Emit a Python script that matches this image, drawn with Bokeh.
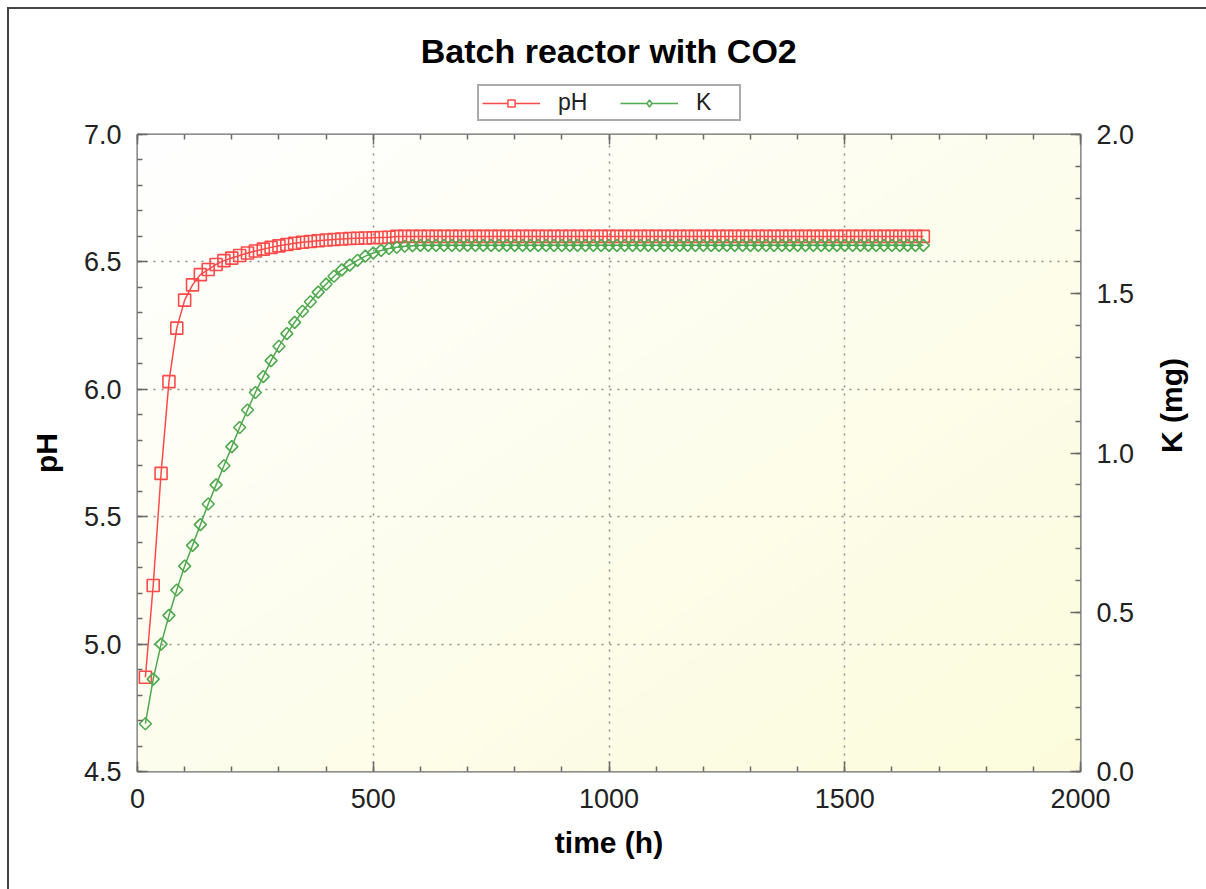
import numpy as np
from bokeh.plotting import figure
from bokeh.layouts import column
from bokeh.models import (Range1d, LinearAxis, Legend, LegendItem, Label,
                          SingleIntervalTicker, PrintfTickFormatter)
from bokeh.embed import file_html
from bokeh.resources import INLINE

# ---------------- data ----------------
time_h = [16.7, 33.3, 50.0, 66.7, 83.3, 100.0, 116.7, 133.3, 150.0, 166.7,
          183.3, 200.0, 216.7, 233.3, 250.0, 266.7, 283.3, 300.0, 316.7, 333.3,
          350.0, 366.7, 383.3, 400.0, 416.7, 433.3, 450.0, 466.7, 483.3, 500.0,
          516.7, 533.3, 550.0, 566.7, 583.3, 600.0, 616.7, 633.3, 650.0, 666.7,
          683.3, 700.0, 716.7, 733.3, 750.0, 766.7, 783.3, 800.0, 816.7, 833.3,
          850.0, 866.7, 883.3, 900.0, 916.7, 933.3, 950.0, 966.7, 983.3, 1000.0,
          1016.7, 1033.3, 1050.0, 1066.7, 1083.3, 1100.0, 1116.7, 1133.3, 1150.0, 1166.7,
          1183.3, 1200.0, 1216.7, 1233.3, 1250.0, 1266.7, 1283.3, 1300.0, 1316.7, 1333.3,
          1350.0, 1366.7, 1383.3, 1400.0, 1416.7, 1433.3, 1450.0, 1466.7, 1483.3, 1500.0,
          1516.7, 1533.3, 1550.0, 1566.7, 1583.3, 1600.0, 1616.7, 1633.3, 1650.0, 1666.7]

ph = [4.87, 5.23, 5.67, 6.03, 6.24, 6.35, 6.41, 6.45, 6.47, 6.49,
      6.505, 6.515, 6.525, 6.535, 6.543, 6.55, 6.557, 6.563, 6.568, 6.573,
      6.577, 6.58, 6.583, 6.586, 6.588, 6.59, 6.592, 6.593, 6.594, 6.595,
      6.596, 6.597, 6.6, 6.6, 6.6, 6.6, 6.6, 6.6, 6.6, 6.6,
      6.6, 6.6, 6.6, 6.6, 6.6, 6.6, 6.6, 6.6, 6.6, 6.6,
      6.6, 6.6, 6.6, 6.6, 6.6, 6.6, 6.6, 6.6, 6.6, 6.6,
      6.6, 6.6, 6.6, 6.6, 6.6, 6.6, 6.6, 6.6, 6.6, 6.6,
      6.6, 6.6, 6.6, 6.6, 6.6, 6.6, 6.6, 6.6, 6.6, 6.6,
      6.6, 6.6, 6.6, 6.6, 6.6, 6.6, 6.6, 6.6, 6.6, 6.6,
      6.6, 6.6, 6.6, 6.6, 6.6, 6.6, 6.6, 6.6, 6.6, 6.6]

k_mg = [0.15, 0.29, 0.40, 0.49, 0.57, 0.645, 0.71, 0.775, 0.84, 0.90,
        0.96, 1.02, 1.08, 1.135, 1.19, 1.24, 1.29, 1.335, 1.375, 1.41,
        1.445, 1.475, 1.505, 1.53, 1.555, 1.575, 1.59, 1.605, 1.618, 1.628,
        1.636, 1.642, 1.646, 1.649, 1.651, 1.652, 1.652, 1.652, 1.652, 1.652,
        1.652, 1.652, 1.652, 1.652, 1.652, 1.652, 1.652, 1.652, 1.652, 1.652,
        1.652, 1.652, 1.652, 1.652, 1.652, 1.652, 1.652, 1.652, 1.652, 1.652,
        1.652, 1.652, 1.652, 1.652, 1.652, 1.652, 1.652, 1.652, 1.652, 1.652,
        1.652, 1.652, 1.652, 1.652, 1.652, 1.652, 1.652, 1.652, 1.652, 1.652,
        1.652, 1.652, 1.652, 1.652, 1.652, 1.652, 1.652, 1.652, 1.652, 1.652,
        1.652, 1.652, 1.652, 1.652, 1.652, 1.652, 1.652, 1.652, 1.652, 1.652]

title_text = "Batch reactor with CO2"
x_label = "time (h)"
y_label = "pH"
y2_label = "K (mg)"
series_labels = ["pH", "K"]

FONT = "Liberation Sans"
RED = "#ff4a4a"
GREEN = "#4fa94f"
FRAME = "#6a6a6a"
W = 1192
HEAD_H = 115
OVERLAP = 20

# ---------------- header: title + legend ----------------
head = figure(width=W, height=HEAD_H, x_range=Range1d(0, W), y_range=Range1d(0, HEAD_H),
              x_axis_location=None, y_axis_location=None, min_border=0,
              toolbar_location=None, output_backend="svg")
head.outline_line_color = None
head.xgrid.visible = False
head.ygrid.visible = False
head.add_layout(Label(x=599.5, y=74, text=title_text, text_align="center",
                      text_baseline="middle", text_font=FONT, text_font_size="34px",
                      text_font_style="bold", text_color="black"))

# ---------------- main plot ----------------
p = figure(frame_width=943, frame_height=637,
           x_range=Range1d(0, 2000), y_range=Range1d(4.5, 7.0),
           output_backend="svg", toolbar_location=None,
           min_border_left=128, min_border_right=121,
           min_border_top=10 + OVERLAP, min_border_bottom=118)
p.extra_y_ranges = {"k": Range1d(0, 2)}
p.margin = (-OVERLAP, 0, 0, 0)

# background gradient (white top-left -> pale yellow bottom-right)
n = 120
cols = np.linspace(0, 1, n)[None, :]
rows = np.linspace(0, 1, n)[:, None]
v = (cols + (1 - rows)) / 2.0
img = np.empty((n, n), dtype=np.uint32)
view = img.view(dtype=np.uint8).reshape((n, n, 4))
view[:, :, 0] = (255 - v * 3).astype(np.uint8)
view[:, :, 1] = (255 - v * 3).astype(np.uint8)
view[:, :, 2] = (255 - v * 34).astype(np.uint8)
view[:, :, 3] = 255
bg = p.image_rgba(image=[img], x=0, y=4.5, dw=2000, dh=2.5)
bg.level = "image"

p.outline_line_color = FRAME
p.outline_line_width = 2
p.border_fill_alpha = 0

xt = SingleIntervalTicker(interval=500, num_minor_ticks=5)
yt = SingleIntervalTicker(interval=0.5, num_minor_ticks=5)
y2t = SingleIntervalTicker(interval=0.5, num_minor_ticks=5)

def style_axis(ax, ticker):
    ax.ticker = ticker
    ax.axis_line_color = None
    ax.major_tick_in = 10
    ax.major_tick_out = 0
    ax.minor_tick_in = 5
    ax.minor_tick_out = 0
    ax.major_tick_line_color = FRAME
    ax.minor_tick_line_color = FRAME
    ax.major_tick_line_width = 1.5
    ax.minor_tick_line_width = 1.5
    ax.major_label_text_font = FONT
    ax.major_label_text_font_size = "27px"
    ax.major_label_text_color = "#222222"
    ax.axis_label_text_font = FONT
    ax.axis_label_text_font_size = "30px"
    ax.axis_label_text_font_style = "bold"
    ax.axis_label_text_color = "black"

style_axis(p.xaxis[0], xt)
style_axis(p.yaxis[0], yt)
p.yaxis[0].formatter = PrintfTickFormatter(format="%.1f")
p.xaxis[0].axis_label = x_label
p.yaxis[0].axis_label = y_label
p.xaxis[0].major_label_standoff = 17
p.yaxis[0].major_label_standoff = 16
p.xaxis[0].axis_label_standoff = 15
p.yaxis[0].axis_label_standoff = 18

ax2 = LinearAxis(y_range_name="k")
style_axis(ax2, y2t)
ax2.formatter = PrintfTickFormatter(format="%.1f")
ax2.axis_label = y2_label
ax2.axis_label_orientation = np.pi / 2
ax2.major_label_standoff = 16
ax2.axis_label_standoff = 34
p.add_layout(ax2, "right")

axt = LinearAxis()
style_axis(axt, SingleIntervalTicker(interval=500, num_minor_ticks=5))
axt.major_label_overrides = {0: "", 500: "", 1000: "", 1500: "", 2000: ""}
axt.major_label_text_font_size = "2px"
axt.major_label_standoff = 0
p.add_layout(axt, "above")

p.xgrid.ticker = xt
p.ygrid.ticker = yt
for g in (p.xgrid[0], p.ygrid[0]):
    g.grid_line_color = "#8a8a8a"
    g.grid_line_dash = "2 6"
    g.grid_line_width = 1.5

p.line(time_h, ph, line_color=RED, line_width=1.5)
p.scatter(time_h, ph, marker="square", size=12, line_color=RED,
          line_width=1.6, fill_alpha=0)
p.line(time_h, k_mg, line_color=GREEN, line_width=1.5, y_range_name="k")
p.scatter(time_h, k_mg, marker="square", angle=np.pi / 4, size=8.5,
          line_color=GREEN, line_width=1.6, fill_alpha=0, y_range_name="k")

# hidden legend proxies in the header (same styles)
hl1 = head.line(time_h, ph, line_color=RED, line_width=1.5, visible=False)
hs1 = head.scatter(time_h, ph, marker="square", size=11, line_color=RED,
                   line_width=1.5, fill_color="white", visible=False)
hl2 = head.line(time_h, k_mg, line_color=GREEN, line_width=1.5, visible=False)
hs2 = head.scatter(time_h, k_mg, marker="diamond", size=13,
                   line_color=GREEN, line_width=1.5, fill_color="white", visible=False)

legend = Legend(items=[LegendItem(label=series_labels[0], renderers=[hl1, hs1]),
                       LegendItem(label=series_labels[1], renderers=[hl2, hs2])],
                orientation="horizontal", location=(340, 3))
legend.label_text_font = FONT
legend.label_text_font_size = "23px"
legend.label_text_color = "#222222"
legend.glyph_width = 58
legend.glyph_height = 18
legend.label_standoff = 18
legend.spacing = 22
legend.label_width = 40
legend.label_height = 18
legend.padding = 3
legend.margin = 0
legend.border_line_color = "#555555"
legend.border_line_width = 2
legend.background_fill_color = "white"
legend.background_fill_alpha = 1
legend.inactive_fill_alpha = 0
head.add_layout(legend, "center")

layout = column(head, p, spacing=0)
layout.styles = {"margin-left": "7px", "margin-top": "7px",
                 "border-left": "2px solid #444", "border-top": "2px solid #444",
                 "border-right": "2px solid #444"}

open("out.html", "w").write(file_html(layout, INLINE))
